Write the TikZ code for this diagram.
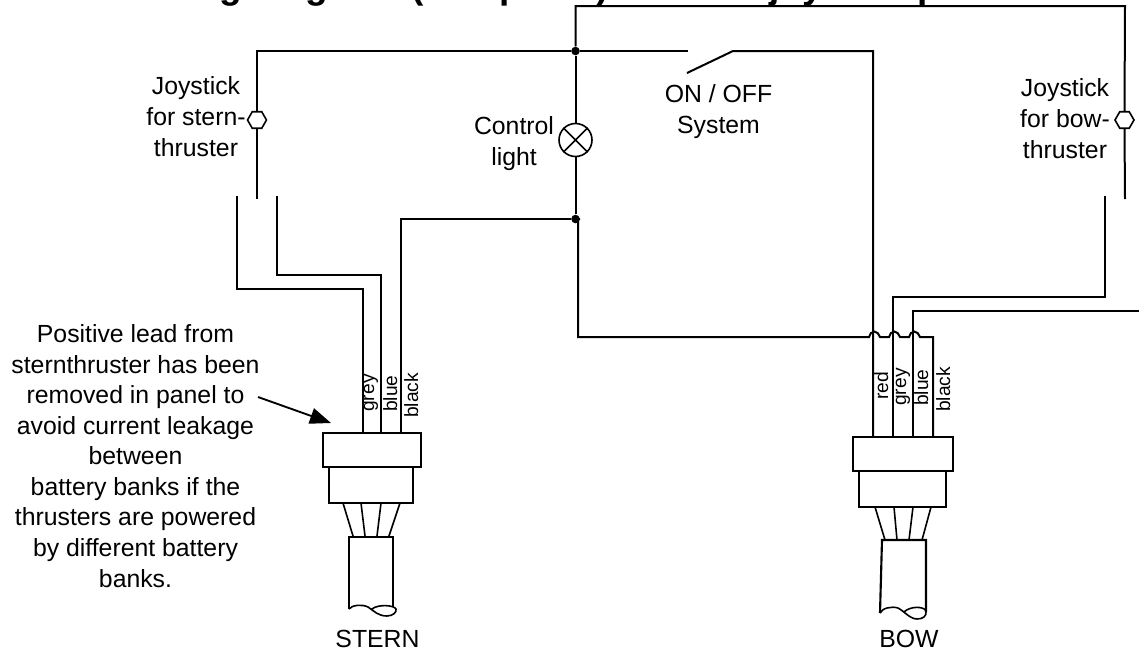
\documentclass[tikz,border=0pt]{standalone}
\usepackage{fontspec}
\setmainfont{Liberation Sans}
\usetikzlibrary{arrows.meta,shapes.geometric,calc}
\tikzset{
  wire/.style={draw=black,line width=1.5pt,line join=miter},
  part/.style={draw=black,line width=1.6pt,line join=miter},
  thin part/.style={draw=black,line width=1.2pt,line join=round},
  dotnode/.style={circle,fill=black,inner sep=0pt,minimum size=6.4pt},
  lbl/.style={font=\fontsize{18.6pt}{22.9pt}\selectfont,align=center,inner sep=0pt,text=black},
  colourlbl/.style={font=\fontsize{14.4pt}{16pt}\selectfont,rotate=90,anchor=base west,inner sep=0pt},
  titletext/.style={font=\fontsize{27.75pt}{30pt}\selectfont\bfseries,anchor=base west,inner sep=0pt},
  stick/.style={regular polygon,regular polygon sides=6,draw=black,line width=1.2pt,fill=white,inner sep=0pt,minimum size=14.25pt},
  lampshape/.style={circle,draw=black,line width=1.2pt,inner sep=0pt,minimum size=24.75pt},
}
\begin{document}
\begin{tikzpicture}[x=0.75pt,y=-0.75pt]
\useasboundingbox (0,0) rectangle (1139,650);
\clip (0,0) rectangle (1139,650);
% title, cut by the top edge of the picture
\node[titletext] (t1) at (127,-2) {Wiring diagram};
\node[titletext] (t2) at (411,-2) {(one panel)};
\node[titletext] (t3) at (769,-2) {joystick panel};
% junctions and devices
\node[dotnode] (j1) at (575.5,51) {};
\node[dotnode] (j2) at (575.5,219) {};
\node[lampshape] (lamp) at (575.5,140) {};
\node[stick] (sj) at (257,120) {};
\node[stick] (bj) at (1124.5,120) {};
% free ends and corners
\coordinate (tl) at (257,51);
\coordinate (sjb) at (257,199);
\coordinate (swa) at (237,196);
\coordinate (swa1) at (237,289);
\coordinate (swa2) at (363,289);
\coordinate (swa3) at (363,433);
\coordinate (swb) at (277,196);
\coordinate (swb1) at (277,275);
\coordinate (swb2) at (381,275);
\coordinate (swb3) at (381,433);
\coordinate (swc1) at (401,219);
\coordinate (swc3) at (401,433);
\coordinate (top1) at (575.5,6);
\coordinate (top2) at (1125,6);
\coordinate (bjb) at (1125,199);
\coordinate (sw1) at (688,51);
\coordinate (sw2) at (687,73);
\coordinate (sw3) at (733,51);
\coordinate (red1) at (873,51);
\coordinate (red2) at (873,437);
\coordinate (gr0) at (1105,196);
\coordinate (gr1) at (1105,297);
\coordinate (gr2) at (893,297);
\coordinate (gr3) at (893,437);
\coordinate (bl0) at (1139,311);
\coordinate (bl1) at (913,311);
\coordinate (bl2) at (913,437);
\coordinate (k1) at (578,219);
\coordinate (k2) at (578,337);
\coordinate (k3) at (933,337);
\coordinate (k4) at (933,437);
% wires
\draw[wire] (swa) -- (swa1) -- (swa2) -- (swa3);
\draw[wire] (swb) -- (swb1) -- (swb2) -- (swb3);
\draw[wire] (swc3) -- (swc1) -- (j2);
\draw[wire] (sjb) -- (sj.south);
\draw[wire] (sj.north) -- (tl) -- (j1) -- (sw1);
\draw[wire] (sw2) -- (sw3) -- (red1) -- (red2);
\draw[wire] (j1) -- (top1) -- (top2) -- (bj.north);
\draw[wire] (bj.south) -- (bjb);
\draw[wire] (j1) -- (lamp.north);
\draw[wire] (lamp.south) -- (j2);
\draw[wire] (gr0) -- (gr1) -- (gr2) -- (gr3);
\draw[wire] (bl0) -- (bl1) -- (bl2);
\draw[wire] (j2) -- (k1) -- (k2) -- (869,337)
  to[out=75,in=180] (874.5,331.5) to[out=0,in=120] (880,337) -- (889,337)
  to[out=75,in=180] (894.5,331.5) to[out=0,in=120] (900,337) -- (909,337)
  to[out=75,in=180] (914.5,331.5) to[out=0,in=120] (920,337) -- (k3) -- (k4);
% lamp cross
\draw[thin part] (lamp.45) -- (lamp.225) (lamp.135) -- (lamp.315);
% stern connector
\draw[part,fill=white] (323,433) rectangle (421,467);
\draw[part,fill=white] (329,467) rectangle (413,503);
\draw[thin part] (343,503) -- (353,536) (361,503) -- (365,536) (381,503) -- (377,536) (400,503) -- (389,536);
\draw[part] (349,609) -- (349,537) -- (393,537) -- (393,607);
\draw[thin part] (349,609) .. controls (352,605) and (362,604) .. (368,607)
  .. controls (374,611) and (378,616) .. (387,616)
  .. controls (393,616) and (397,612) .. (396,609)
  .. controls (394,605) and (378,604) .. (372,609);
% bow connector
\draw[part,fill=white] (853,437) rectangle (953,471);
\draw[part,fill=white] (859,471) rectangle (946,507);
\draw[thin part] (875,507) -- (885,540) (894,507) -- (897,540) (913,507) -- (909,540) (931,507) -- (922,540);
\draw[part] (880,613) -- (882,540) -- (926,540) -- (926,612);
\draw[thin part] (880,613) .. controls (882,608) and (892,606) .. (898,608)
  .. controls (904,611) and (910,619) .. (917,619)
  .. controls (923,619) and (927,616) .. (926,611)
  .. controls (924,606) and (910,606) .. (904,612);
% arrow
\coordinate (a1) at (258,397);
\coordinate (a2) at (331,423);
\draw[line width=1.4pt,-{Triangle[length=15.75pt,width=12pt]}] (a1) -- (a2);
% labels
\node[lbl,anchor=base] (l1) at (196,156) {Joystick\\for stern-\hspace{6pt}\\thruster};
\node[lbl,anchor=base] (l2) at (1065,158) {Joystick\\for bow-\\thruster};
\node[lbl,anchor=base] (l3) at (514,165) {Control\\light};
\node[lbl,anchor=base] (l4) at (718.5,133) {ON / OFF\\System};
\node[lbl,anchor=base] (l5) at (135.5,587) {Positive lead from\\sternthruster has been\\removed in panel to\\avoid current leakage\\between\\battery banks if the\\thrusters are powered\\by different battery\\banks.};
\node[lbl,anchor=base] (l6) at (377.5,647) {STERN};
\node[lbl,anchor=base] (l7) at (909,647) {BOW};
% wire colours
\node[colourlbl] (c1) at (374,412) {grey};
\node[colourlbl] (c2) at (397,412) {blue};
\node[colourlbl] (c3) at (418,418) {black};
\node[colourlbl] (c4) at (888,400) {red};
\node[colourlbl] (c5) at (906,406) {grey};
\node[colourlbl] (c6) at (928,406) {blue};
\node[colourlbl] (c7) at (950,412) {black};
\end{tikzpicture}
\end{document}
